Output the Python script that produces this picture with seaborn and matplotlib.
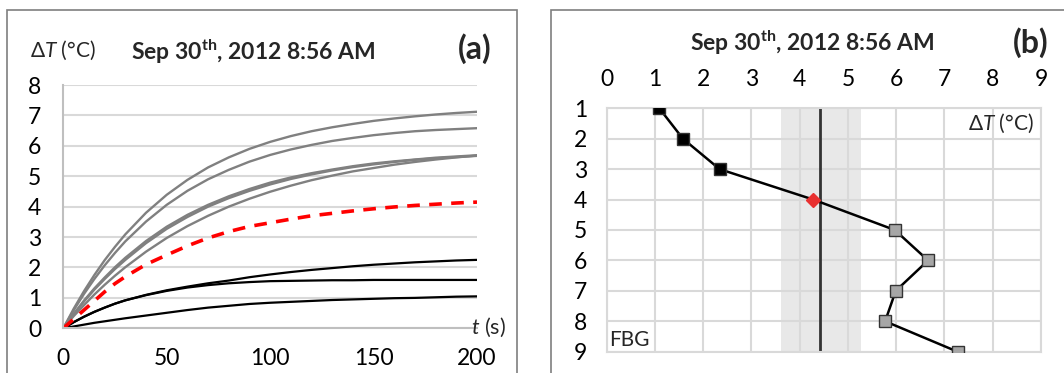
import numpy as np
import pandas as pd
import matplotlib
matplotlib.use("Agg")
import matplotlib.pyplot as plt
import seaborn as sns
from matplotlib.patches import Rectangle

# heating curves, panel (a)
t_s = [0, 5, 10, 15, 20, 25, 30, 40, 50, 60, 70, 80, 90, 100,
       110, 120, 130, 140, 150, 160, 170, 180, 190, 200]

curve_fbg1 = [0, 0.06, 0.12, 0.18, 0.23, 0.28, 0.33, 0.42, 0.51, 0.60, 0.68, 0.74, 0.80, 0.84,
              0.87, 0.90, 0.93, 0.95, 0.97, 0.99, 1.00, 1.02, 1.04, 1.05]
curve_fbg2 = [0, 0.20, 0.38, 0.54, 0.68, 0.81, 0.92, 1.09, 1.23, 1.34, 1.42, 1.48, 1.52, 1.55,
              1.56, 1.57, 1.58, 1.58, 1.59, 1.59, 1.59, 1.59, 1.59, 1.59]
curve_fbg3 = [0, 0.20, 0.38, 0.54, 0.68, 0.81, 0.92, 1.10, 1.25, 1.37, 1.48, 1.57, 1.68, 1.77,
              1.85, 1.92, 1.98, 2.04, 2.09, 2.13, 2.17, 2.20, 2.23, 2.25]
curve_fbg4 = [0, 0.30, 0.60, 0.90, 1.20, 1.47, 1.70, 2.10, 2.41, 2.71, 2.97, 3.18, 3.35, 3.47,
              3.59, 3.70, 3.78, 3.86, 3.93, 3.99, 4.04, 4.08, 4.12, 4.15]
curve_fbg5 = [0, 0.47, 0.91, 1.31, 1.67, 2.01, 2.32, 2.87, 3.34, 3.73, 4.06, 4.34, 4.58, 4.79,
              4.96, 5.10, 5.22, 5.33, 5.42, 5.49, 5.55, 5.61, 5.65, 5.69]
curve_fbg6 = [0, 0.59, 1.13, 1.62, 2.07, 2.48, 2.86, 3.51, 4.06, 4.52, 4.90, 5.21, 5.48, 5.70,
              5.88, 6.03, 6.16, 6.26, 6.35, 6.42, 6.48, 6.52, 6.55, 6.58]
curve_fbg7 = [0, 0.45, 0.88, 1.27, 1.62, 1.95, 2.25, 2.80, 3.27, 3.66, 4.00, 4.28, 4.52, 4.73,
              4.91, 5.06, 5.19, 5.30, 5.39, 5.47, 5.54, 5.59, 5.63, 5.67]
curve_fbg8 = [0, 0.40, 0.76, 1.11, 1.43, 1.73, 2.01, 2.52, 2.97, 3.36, 3.70, 4.00, 4.26, 4.49,
              4.69, 4.87, 5.02, 5.16, 5.27, 5.38, 5.47, 5.55, 5.62, 5.68]
curve_fbg9 = [0, 0.64, 1.22, 1.75, 2.24, 2.68, 3.09, 3.80, 4.39, 4.88, 5.29, 5.62, 5.90, 6.13,
              6.32, 6.48, 6.61, 6.72, 6.82, 6.90, 6.97, 7.03, 7.08, 7.12]

# profile along the sensor, panel (b)
fbg_no = [1, 2, 3, 4, 5, 6, 7, 8, 9]
fbg_dT = [1.09, 1.58, 2.34, 4.28, 5.97, 6.66, 5.99, 5.77, 7.27]
dT_mean = 4.42
dT_band = [3.62, 5.28]

title = "Sep 30$^{\\mathbf{th}}$, 2012 8:56 AM"

sns.set_theme(style="white")
plt.rcParams["font.family"] = ["Lato", "DejaVu Sans"]
plt.rcParams["mathtext.fontset"] = "custom"
plt.rcParams["mathtext.rm"] = "Lato"
plt.rcParams["mathtext.it"] = "Lato:italic"
plt.rcParams["mathtext.bf"] = "Lato:bold"

W, H = 1064, 373
fig = plt.figure(figsize=(W / 100, H / 100), dpi=100)
grid_c = "#d9d9d9"


def px(x0, y0, x1, y1):
    # pixel box -> figure fraction rect
    return [x0 / W, 1 - y1 / H, (x1 - x0) / W, (y1 - y0) / H]


# panel frames
fig.add_artist(Rectangle((7 / W, -0.1), 510 / W, 1.1 - 10 / H, transform=fig.transFigure,
                         fill=False, ec="#7f7f7f", lw=1.2))
fig.add_artist(Rectangle((551 / W, -0.1), 0.6, 1.1 - 10 / H, transform=fig.transFigure,
                         fill=False, ec="#7f7f7f", lw=1.2))

# ---- panel (a)
ax1 = fig.add_axes(px(63.3, 85, 477, 328.3))
for c in [curve_fbg5, curve_fbg6, curve_fbg7, curve_fbg8, curve_fbg9]:
    sns.lineplot(x=t_s, y=c, color="#808080", lw=1.7, ax=ax1)
for c in [curve_fbg1, curve_fbg2, curve_fbg3]:
    sns.lineplot(x=t_s, y=c, color="black", lw=1.6, ax=ax1)
sns.lineplot(x=t_s, y=curve_fbg4, color="#ff0000", lw=2.6, linestyle=(0, (3.5, 2.6)), ax=ax1)

ax1.set_xlim(0, 200)
ax1.set_ylim(0, 8)
ax1.set_xticks([0, 50, 100, 150, 200])
ax1.set_yticks(range(0, 9))
ax1.yaxis.grid(True, color=grid_c, lw=1.5)
ax1.set_axisbelow(True)
for s in ["top", "right"]:
    ax1.spines[s].set_visible(False)
for s in ["left", "bottom"]:
    ax1.spines[s].set_color("#bfbfbf")
    ax1.spines[s].set_linewidth(1.5)
ax1.tick_params(length=0, labelsize=16.5, colors="black")
ax1.tick_params(axis="x", pad=14)
ax1.tick_params(axis="y", pad=16)
ax1.set_xlabel("")
ax1.set_ylabel("")

fig.text(63 / W, 1 - 50 / H, "Δ$T$ (°C)", fontsize=15, ha="center", va="center")
fig.text(253 / W, 1 - 52 / H, title, fontsize=16.5, fontweight="bold", ha="center", va="center")
fig.text(475 / W, 1 - 49 / H, "(a)", fontsize=23, fontweight="bold", ha="center", va="center")
fig.text(488 / W, 1 - 327 / H, "$t$ (s)", fontsize=15.5, ha="center", va="center")

# ---- panel (b)
ax2 = fig.add_axes(px(606.7, 108.3, 1041, 351.7))
ax2.axvspan(dT_band[0], dT_band[1], color="#e8e8e8", lw=0, zorder=0)
sns.lineplot(x=fbg_dT, y=fbg_no, orient="y", sort=False, color="black", lw=1.8, ax=ax2, zorder=3)
ax2.axvline(dT_mean, color="#333333", lw=2.0, zorder=2)
cols = ["black"] * 3 + ["#e83030"] + ["#a6a6a6"] * 5
marks = ["s"] * 3 + ["D"] + ["s"] * 5
for x, y, c, m in zip(fbg_dT, fbg_no, cols, marks):
    ax2.plot(x, y, marker=m, ms=8.5 if m == "s" else 7.5, mfc=c,
             mec="#333333" if c != "#e83030" else c, mew=1.0, zorder=4)

ax2.set_xlim(0, 9)
ax2.set_ylim(9, 1)
ax2.set_xticks(range(0, 10))
ax2.set_yticks(fbg_no)
ax2.xaxis.tick_top()
ax2.grid(True, color=grid_c, lw=1.5)
ax2.set_axisbelow(True)
for s in ax2.spines.values():
    s.set_color(grid_c)
    s.set_linewidth(1.5)
ax2.tick_params(length=0, labelsize=16.5, colors="black")
ax2.tick_params(axis="x", pad=13)
ax2.tick_params(axis="y", pad=14)
ax2.set_xlabel("")
ax2.set_ylabel("")
ax2.text(8.85, 1.48, "Δ$T$ (°C)", fontsize=15, ha="right", va="center")
ax2.text(0.06, 8.62, "FBG", fontsize=15, ha="left", va="center")

fig.text(812 / W, 1 - 43 / H, title, fontsize=16.5, fontweight="bold", ha="center", va="center")
fig.text(1031 / W, 1 - 43 / H, "(b)", fontsize=23, fontweight="bold", ha="center", va="center")

fig.savefig("out.png", dpi=100)
